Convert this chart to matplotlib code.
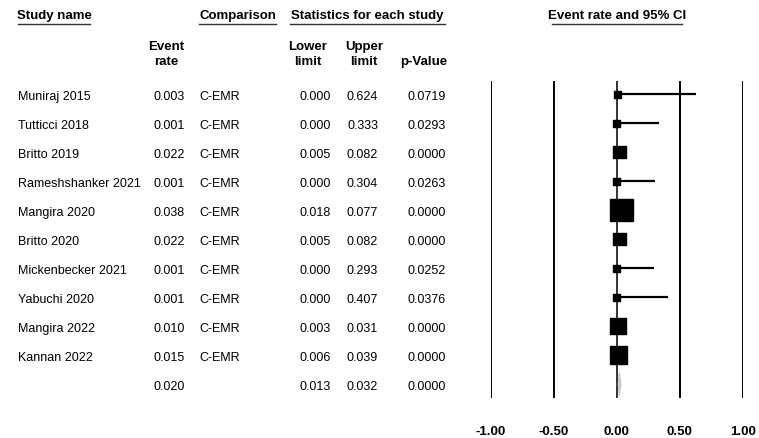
import matplotlib
matplotlib.use("Agg")
import matplotlib.pyplot as plt
from matplotlib.transforms import blended_transform_factory, offset_copy
from matplotlib.lines import Line2D

plt.rcParams['font.family'] = ['Liberation Sans', 'DejaVu Sans']

studies = ["Muniraj 2015", "Tutticci 2018", "Britto 2019", "Rameshshanker 2021",
           "Mangira 2020", "Britto 2020", "Mickenbecker 2021", "Yabuchi 2020",
           "Mangira 2022", "Kannan 2022"]
comparison = ["C-EMR"] * 10
event_rate = [0.003, 0.001, 0.022, 0.001, 0.038, 0.022, 0.001, 0.001, 0.010, 0.015]
lower = [0.000, 0.000, 0.005, 0.000, 0.018, 0.005, 0.000, 0.000, 0.003, 0.006]
upper = [0.624, 0.333, 0.082, 0.304, 0.077, 0.082, 0.293, 0.407, 0.031, 0.039]
p_value = ["0.0719", "0.0293", "0.0000", "0.0263", "0.0000",
           "0.0000", "0.0252", "0.0376", "0.0000", "0.0000"]
# relative study weights (estimated from square areas)
weight = [1.0, 1.0, 3.0, 1.0, 10.0, 3.0, 1.0, 1.0, 4.6, 5.9]

pooled_rate = 0.020
pooled_lower = 0.013
pooled_upper = 0.032
pooled_p = "0.0000"

ticks = [-1.0, -0.5, 0.0, 0.5, 1.0]

W, H = 759, 439
fig = plt.figure(figsize=(W / 100, H / 100), dpi=100)


def fx(px):
    return px / W


def fy(py):
    return 1 - py / H


# forest plot axes
ax = fig.add_axes([fx(490.5), fy(399), fx(743) - fx(490.5), fy(82) - fy(399)])
ax.set_xlim(-1, 1)
ax.set_ylim(10.48, -0.45)
for s in ax.spines.values():
    s.set_visible(False)
ax.set_yticks([])
ax.set_xticks(ticks)
ax.set_xticklabels([f"{t:.2f}" for t in ticks], fontweight='bold', fontsize=9.5)
ax.tick_params(axis='x', length=0, pad=19.5)

for t in ticks:
    ax.axvline(t, color='#333333' if t == 0 else 'black', lw=1.4, zorder=1)

rows = list(range(len(studies)))
for i in rows:
    ax.plot([lower[i], upper[i]], [i, i], color='black', lw=1.6, zorder=2,
            solid_capstyle='butt')
ax.scatter(event_rate, rows, s=[w * 26 for w in weight], marker='s',
           color='black', zorder=3)

# pooled diamond
yp = len(studies)
ax.fill([pooled_lower, pooled_rate, pooled_upper, pooled_rate],
        [yp, yp - 0.4, yp, yp + 0.4], color='#c8c8c8', zorder=3)

# table text (nudged down a little to sit like the reference)
tr = offset_copy(blended_transform_factory(fig.transFigure, ax.transData),
                 fig=fig, y=-1.5, units='dots')
fs = 9
for i in rows:
    ax.text(fx(18), i, studies[i], transform=tr, fontsize=fs, va='center', ha='left')
    ax.text(fx(185), i, f"{event_rate[i]:.3f}", transform=tr, fontsize=fs, va='center', ha='right')
    ax.text(fx(199), i, comparison[i], transform=tr, fontsize=fs, va='center', ha='left')
    ax.text(fx(331), i, f"{lower[i]:.3f}", transform=tr, fontsize=fs, va='center', ha='right')
    ax.text(fx(378), i, f"{upper[i]:.3f}", transform=tr, fontsize=fs, va='center', ha='right')
    ax.text(fx(446), i, p_value[i], transform=tr, fontsize=fs, va='center', ha='right')

ax.text(fx(185), yp, f"{pooled_rate:.3f}", transform=tr, fontsize=fs, va='center', ha='right')
ax.text(fx(331), yp, f"{pooled_lower:.3f}", transform=tr, fontsize=fs, va='center', ha='right')
ax.text(fx(378), yp, f"{pooled_upper:.3f}", transform=tr, fontsize=fs, va='center', ha='right')
ax.text(fx(446), yp, pooled_p, transform=tr, fontsize=fs, va='center', ha='right')

# headers
hfs = 9.5
headers = [("Study name", 18, 90), ("Comparison", 199, 276),
           ("Statistics for each study", 290, 445), ("Event rate and 95% CI", 552, 682)]
for label, x0, x1 in headers:
    fig.text(fx((x0 + x1) / 2), fy(16), label, fontsize=hfs, fontweight='bold',
             ha='center', va='center')
    fig.add_artist(Line2D([fx(x0), fx(x1)], [fy(24.5), fy(24.5)],
                          color='#333333', lw=1.0))

sub_headers = [("Event\nrate", 166), ("Lower\nlimit", 308), ("Upper\nlimit", 364),
               ("p-Value", 424)]
for label, xc in sub_headers:
    lines = label.split("\n")
    if len(lines) == 2:
        fig.text(fx(xc), fy(47), lines[0], fontsize=hfs, fontweight='bold', ha='center', va='center')
        fig.text(fx(xc), fy(62), lines[1], fontsize=hfs, fontweight='bold', ha='center', va='center')
    else:
        fig.text(fx(xc), fy(62), lines[0], fontsize=hfs, fontweight='bold', ha='center', va='center')

fig.savefig("out.png", dpi=100)
